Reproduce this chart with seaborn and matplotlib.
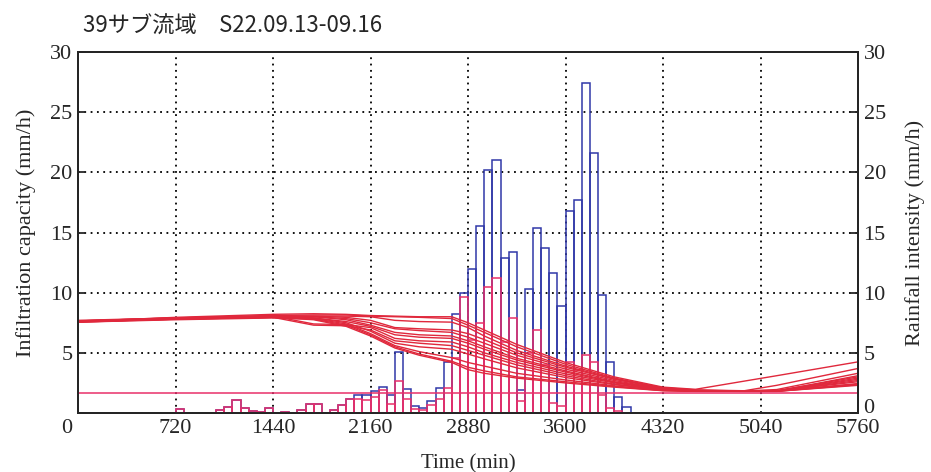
import numpy as np
import pandas as pd
import matplotlib
matplotlib.use("Agg")
import matplotlib.pyplot as plt
import matplotlib.transforms as mtrans
import seaborn as sns

# ---------------- data ----------------
bin_start = list(range(720, 4021, 60))
rain_blue = [0.3, 0, 0, 0, 0, 0.25, 0.5, 1.1, 0.4, 0.15, 0.1, 0.4, 0, 0.08, 0, 0.25,
             0.75, 0.75, 0, 0.25, 0.7, 1.15, 1.5, 1.5, 1.8, 2.2, 1.5, 5.1, 2.0, 0.6,
             0.45, 1.0, 2.1, 4.2, 8.25, 10.0, 12.0, 15.5, 20.2, 21.0, 12.9, 13.4, 1.9,
             10.3, 15.4, 13.7, 11.6, 8.9, 16.8, 17.7, 27.4, 21.6, 9.8, 4.2, 1.3, 0.5]
rain_red = [0.3, 0, 0, 0, 0, 0.25, 0.5, 1.1, 0.4, 0.15, 0.1, 0.4, 0, 0.08, 0, 0.25,
            0.75, 0.75, 0, 0.25, 0.7, 1.15, 1.2, 1.1, 1.35, 1.9, 0.75, 2.7, 1.15, 0.3,
            0.25, 0.7, 1.15, 2.1, 4.6, 9.6, 6.1, 7.5, 10.5, 11.2, 5.9, 7.9, 1.0,
            5.0, 6.9, 4.0, 0.85, 0.6, 4.2, 3.6, 4.8, 4.25, 1.5, 0.45, 0.2, 0.0]

curve_t = [0, 720, 1440, 1740, 1980, 2160, 2340, 2520, 2760, 2880, 3000, 3240,
           3600, 3960, 4320, 4560, 4920, 5160, 5760]
u1 = [7.60, 7.95, 8.20, 8.25, 8.20, 8.10, 8.05, 8.00, 8.00, 7.50, 6.90, 5.70, 4.20, 3.00, 2.15, 1.97, 2.65, 3.10, 4.25]
u2 = [7.65, 7.90, 8.10, 8.15, 8.15, 8.05, 8.00, 7.95, 7.85, 7.30, 6.70, 5.50, 4.05, 2.90, 2.10, 1.92, 1.85, 2.30, 3.70]
u3 = [7.70, 7.90, 8.00, 8.05, 8.05, 8.00, 7.70, 7.60, 7.55, 7.10, 6.40, 5.20, 3.90, 2.85, 2.05, 1.90, 1.83, 1.95, 3.30]
m1 = [7.60, 7.85, 8.05, 8.05, 7.95, 7.70, 7.10, 7.00, 6.90, 6.60, 6.10, 5.00, 3.80, 2.80, 2.05, 1.88, 1.82, 1.86, 3.00]
m2 = [7.55, 7.85, 8.00, 8.00, 7.85, 7.50, 7.00, 6.85, 6.70, 6.30, 5.80, 4.80, 3.65, 2.70, 2.00, 1.86, 1.82, 1.84, 2.80]
m3 = [7.65, 7.90, 8.10, 8.00, 7.75, 7.30, 6.70, 6.50, 6.40, 6.00, 5.50, 4.55, 3.50, 2.60, 2.00, 1.85, 1.82, 1.83, 2.60]
m4 = [7.60, 7.80, 8.00, 7.90, 7.60, 7.20, 6.50, 6.30, 6.20, 5.80, 5.30, 4.40, 3.40, 2.55, 1.98, 1.84, 1.81, 1.82, 2.45]
l1 = [7.60, 7.85, 8.05, 7.40, 7.35, 7.10, 6.20, 6.00, 5.90, 5.50, 5.00, 4.20, 3.25, 2.50, 1.95, 1.83, 1.81, 1.82, 2.90]
l2 = [7.55, 7.80, 7.95, 7.30, 7.25, 6.90, 6.00, 5.80, 5.60, 5.20, 4.80, 4.00, 3.10, 2.40, 1.93, 1.83, 1.81, 1.82, 2.70]
l3 = [7.60, 7.85, 8.00, 7.90, 7.50, 6.80, 5.80, 5.50, 5.30, 4.90, 4.50, 3.75, 2.95, 2.35, 1.92, 1.82, 1.81, 1.82, 3.10]
d1 = [7.60, 7.80, 7.95, 7.85, 7.40, 6.60, 5.60, 5.10, 4.60, 4.20, 3.90, 3.30, 2.75, 2.25, 1.88, 1.81, 1.80, 1.81, 2.40]
d2 = [7.55, 7.75, 7.90, 7.80, 7.30, 6.50, 5.50, 4.90, 4.30, 3.80, 3.50, 3.00, 2.60, 2.20, 1.86, 1.81, 1.80, 1.80, 2.35]
d3 = [7.65, 7.85, 7.95, 7.75, 7.20, 6.40, 5.40, 4.80, 4.20, 3.60, 3.30, 2.90, 2.50, 2.15, 1.85, 1.80, 1.80, 1.80, 2.30]
curves = {"u1": u1, "u2": u2, "u3": u3, "m1": m1, "m2": m2, "m3": m3, "m4": m4,
          "l1": l1, "l2": l2, "l3": l3, "d1": d1, "d2": d2, "d3": d3}
base_level = 1.65

x_ticks = [0, 720, 1440, 2160, 2880, 3600, 4320, 5040, 5760]
y_ticks = [0, 5, 10, 15, 20, 25, 30]
title = "39サブ流域　S22.09.13-09.16"
xlabel = "Time (min)"
ylabel_left = "Infiltration capacity (mm/h)"
ylabel_right = "Rainfall intensity (mm/h)"

# ---------------- style ----------------
sns.set_style("white")
plt.rcParams["font.family"] = ["Liberation Serif", "DejaVu Serif"]
BLUE = "#3038a8"
RED_BAR = "#e8306a"
RED_LINE = "#e0283c"

fig = plt.figure(figsize=(9.31, 4.72), dpi=100)
ax = fig.add_axes([0.0838, 0.125, 0.8378, 0.7648])

df_bars = pd.DataFrame({"t": bin_start, "blue": rain_blue, "red": rain_red})
b = df_bars[df_bars.blue > 0]
ax.bar(b.t, b.blue, width=60, align="edge", fill=False, edgecolor=BLUE, linewidth=1.1, zorder=2)
r = df_bars[df_bars.red > 0]
ax.bar(r.t, r.red, width=60, align="edge", fill=False, edgecolor=RED_BAR, linewidth=1.1, zorder=3)

rows = []
for name, vals in curves.items():
    for t, v in zip(curve_t, vals):
        rows.append((name, t, v))
df_c = pd.DataFrame(rows, columns=["curve", "t", "v"])
sns.lineplot(data=df_c, x="t", y="v", units="curve", estimator=None, color=RED_LINE,
             linewidth=1.0, ax=ax, zorder=4, sort=False)
ax.axhline(base_level, color=RED_BAR, linewidth=1.1, zorder=4)

ax.set_xlim(0, 5760)
ax.set_ylim(0, 30)
ax.set_xticks(x_ticks)
ax.set_yticks(y_ticks)
ax.set_yticklabels([""] + [str(v) for v in y_ticks[1:]])
ax.grid(True, linestyle=(0, (1, 2.5)), color="black", linewidth=1.3)
ax.set_axisbelow(True)
ax.tick_params(direction="in", length=6, width=1.3, labelsize=16, pad=4)
for s in ax.spines.values():
    s.set_linewidth(1.4)
    s.set_color("black")
ax.set_xlabel(xlabel, fontsize=15, labelpad=12)
ax.set_ylabel(ylabel_left, fontsize=16, labelpad=10)

# shift the x "0" label slightly left, as in the reference
xl0 = ax.get_xticklabels()[0]
xl0.set_transform(xl0.get_transform() + mtrans.ScaledTranslation(-11 / 100, 0, fig.dpi_scale_trans))

ax2 = ax.twinx()
ax2.set_ylim(0, 30)
ax2.set_yticks(y_ticks)
ax2.tick_params(direction="in", length=6, width=1.3, labelsize=16, pad=4)
ax2.set_ylabel(ylabel_right, fontsize=16, labelpad=14)
for s in ax2.spines.values():
    s.set_linewidth(1.4)
fig.canvas.draw()
yl0 = ax2.get_yticklabels()[0]
yl0.set_transform(yl0.get_transform() + mtrans.ScaledTranslation(0, 7 / 100, fig.dpi_scale_trans))

fig.text(0.089, 0.93, title, fontsize=16, va="baseline", ha="left",
         fontfamily=["Noto Sans CJK JP", "DejaVu Sans"])

fig.savefig("out.png", dpi=100)
